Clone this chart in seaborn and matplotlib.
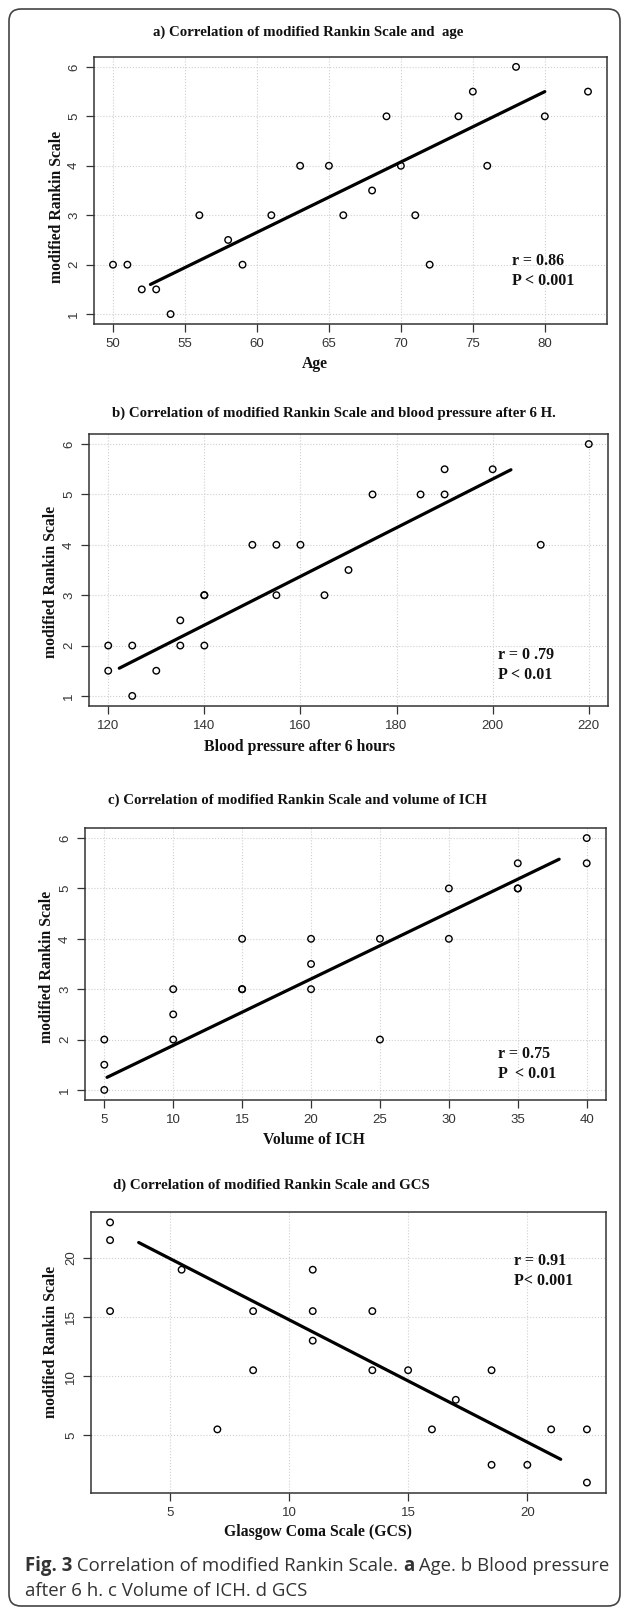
import numpy as np
import matplotlib
matplotlib.use("Agg")
import matplotlib.pyplot as plt
import seaborn as sns
from matplotlib.patches import FancyBboxPatch

# a) age vs modified Rankin Scale
age = [50, 51, 52, 53, 54, 56, 58, 59, 61, 63, 65, 66, 68, 69, 70, 71, 72, 74, 75, 76, 78, 80, 83]
mrs_age = [2, 2, 1.5, 1.5, 1, 3, 2.5, 2, 3, 4, 4, 3, 3.5, 5, 4, 3, 2, 5, 5.5, 4, 6, 5, 5.5]
fit_age_x = [52.6, 80]
fit_age_y = [1.6, 5.5]

# b) blood pressure after 6 h
bp = [120, 120, 125, 125, 130, 135, 135, 140, 140, 140, 150, 155, 155, 160, 165, 170, 175, 185, 190, 190, 200, 210, 220]
mrs_bp = [2, 1.5, 2, 1, 1.5, 2.5, 2, 3, 3, 2, 4, 4, 3, 4, 3, 3.5, 5, 5, 5.5, 5, 5.5, 4, 6]
fit_bp_x = [122.3, 203.8]
fit_bp_y = [1.55, 5.49]

# c) volume of ICH
ich = [5, 5, 5, 10, 10, 10, 15, 15, 15, 20, 20, 20, 25, 25, 30, 30, 35, 35, 35, 40, 40]
mrs_ich = [2, 1.5, 1, 3, 2.5, 2, 4, 3, 3, 4, 3.5, 3, 4, 2, 5, 4, 5.5, 5, 5, 6, 5.5]
fit_ich_x = [5.2, 38.0]
fit_ich_y = [1.25, 5.58]

# d) GCS
gcs = [2.5, 2.5, 2.5, 5.5, 7, 8.5, 8.5, 11, 11, 11, 13.5, 13.5, 15, 16, 17, 18.5, 18.5, 20, 21, 22.5, 22.5]
mrs_gcs = [23, 21.5, 15.5, 19, 5.5, 15.5, 10.5, 19, 15.5, 13, 15.5, 10.5, 10.5, 5.5, 8, 10.5, 2.5, 2.5, 5.5, 5.5, 1]
fit_gcs_x = [3.7, 21.4]
fit_gcs_y = [21.3, 2.97]

titles = ["a) Correlation of modified Rankin Scale and  age",
          "b) Correlation of modified Rankin Scale and blood pressure after 6 H.",
          "c) Correlation of modified Rankin Scale and volume of ICH",
          "d) Correlation of modified Rankin Scale and GCS"]
xlabels = ["Age", "Blood pressure after 6 hours", "Volume of ICH", "Glasgow Coma Scale (GCS)"]
ylabel = "modified Rankin Scale"
stats = [("r = 0.86", "P < 0.001"), ("r = 0 .79", "P < 0.01"),
         ("r = 0.75", "P  < 0.01"), ("r = 0.91", "P< 0.001")]

sns.set_style("white")
plt.rcParams["font.family"] = ["Liberation Sans", "DejaVu Sans"]
SERIF = ["Liberation Serif", "DejaVu Serif"]

W, H = 627, 1609
fig = plt.figure(figsize=(W / 100, H / 100), dpi=100)


def fx(x):
    return x / W


def fy(y):
    return 1 - y / H


def add_ax(left, top, right, bottom):
    return fig.add_axes([fx(left), fy(bottom), (right - left) / W, (bottom - top) / H])


def r_lim(v):
    lo, hi = min(v), max(v)
    d = (hi - lo) * 0.04
    return lo - d, hi + d


def panel(ax, x, y, fit_x, fit_y, xticks, yticks):
    ax.grid(True, ls=":", color="#cfcfcf", lw=0.8)
    ax.set_axisbelow(True)
    sns.scatterplot(x=x, y=y, ax=ax, marker="o", s=22, facecolor="none",
                    edgecolor="black", linewidth=1.0, zorder=3)
    sns.lineplot(x=fit_x, y=fit_y, ax=ax, color="black", lw=2.3, zorder=4)
    ax.set_xlim(*r_lim(x))
    ax.set_ylim(*r_lim(y))
    ax.set_xticks(xticks)
    ax.set_yticks(yticks)
    ax.tick_params(bottom=True, left=True, direction="out", length=6, width=0.9,
                   colors="#333333", labelsize=9.5, pad=4)
    for lbl in ax.get_yticklabels():
        lbl.set_rotation(90)
        lbl.set_va("center")
    for s in ax.spines.values():
        s.set_color("#333333")
        s.set_linewidth(1.1)
    ax.set_xlabel("")
    ax.set_ylabel("")


boxes = [(94, 57, 607, 324), (89, 434, 608, 706), (85, 828, 606, 1100), (91, 1212, 606, 1493)]
data = [(age, mrs_age, fit_age_x, fit_age_y, range(50, 81, 5), range(1, 7)),
        (bp, mrs_bp, fit_bp_x, fit_bp_y, range(120, 221, 20), range(1, 7)),
        (ich, mrs_ich, fit_ich_x, fit_ich_y, range(5, 41, 5), range(1, 7)),
        (gcs, mrs_gcs, fit_gcs_x, fit_gcs_y, range(5, 21, 5), range(5, 21, 5))]
title_pos = [(153, 32), (112, 413), (108, 800), (113, 1185)]
xlabel_pos = [(315, 364), (300, 747), (314, 1140), (318, 1532)]
ylabel_pos = [(57, 207), (51, 582), (47, 967), (51, 1342)]
stats_pos = [(512, 261), (498, 655), (498, 1054), (514, 1261)]

for i in range(4):
    ax = add_ax(*boxes[i])
    panel(ax, *data[i])
    fig.text(fx(title_pos[i][0]), fy(title_pos[i][1]), titles[i], family=SERIF,
             fontweight="bold", fontsize=10.7, ha="left", va="center", color="#111111")
    fig.text(fx(xlabel_pos[i][0]), fy(xlabel_pos[i][1]), xlabels[i], family=SERIF,
             fontweight="bold", fontsize=11.3, ha="center", va="center", color="#111111")
    fig.text(fx(ylabel_pos[i][0]), fy(ylabel_pos[i][1]), ylabel, family=SERIF,
             fontweight="bold", fontsize=11.3, ha="center", va="center", rotation=90,
             color="#111111")
    sx, sy = stats_pos[i]
    fig.text(fx(sx), fy(sy), stats[i][0], family=SERIF, fontweight="bold",
             fontsize=11.5, ha="left", va="center", color="#111111")
    fig.text(fx(sx), fy(sy + 20), stats[i][1], family=SERIF, fontweight="bold",
             fontsize=11.5, ha="left", va="center", color="#111111")

# caption, mixed weights drawn piece by piece
renderer = fig.canvas.get_renderer()


def caption_line(pieces, x0, y0):
    x = fx(x0)
    for s, w in pieces:
        t = fig.text(x, fy(y0), s, family=["Open Sans", "DejaVu Sans"], fontweight=w,
                     fontsize=13.4, ha="left", va="center", color="#333333")
        x = t.get_window_extent(renderer=renderer).x1 / fig.bbox.width


caption_line([("Fig. 3", "bold"), (" Correlation of modified Rankin Scale. ", "normal"),
              ("a", "bold"), (" Age. b Blood pressure", "normal")], 25, 1566)
caption_line([("after 6 h. c Volume of ICH. d GCS", "normal")], 25, 1591)

frame = FancyBboxPatch((0.09, 0.03), 6.11, 15.97, boxstyle="round,pad=0,rounding_size=0.12",
                       transform=fig.dpi_scale_trans, fill=False, edgecolor="#444444", lw=1.2)
fig.patches.append(frame)

fig.savefig("out.png", dpi=100)
